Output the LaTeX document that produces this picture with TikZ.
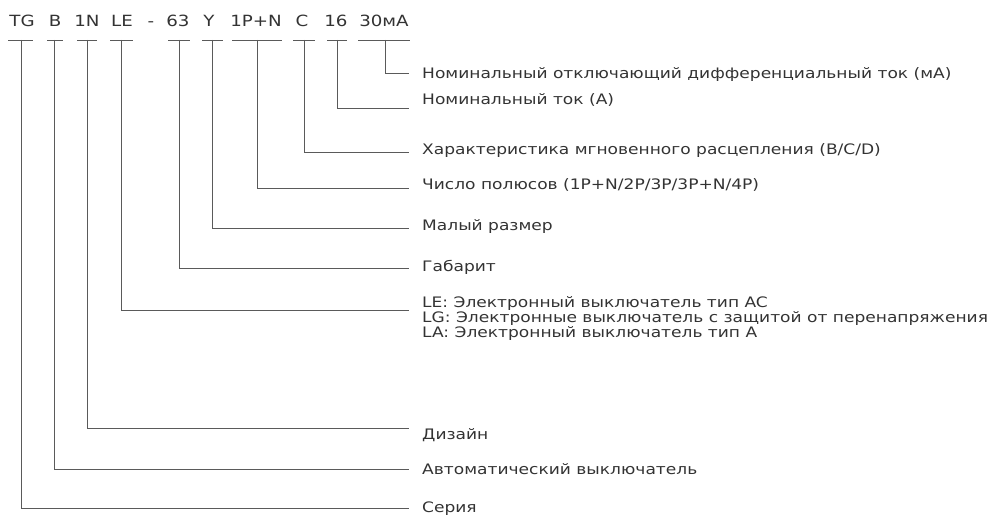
\documentclass[tikz,border=0pt]{standalone}
\usepackage{fontspec}
\setmainfont{DejaVu Sans}[FakeStretch=1.18]
\definecolor{txt}{HTML}{333333}
\definecolor{ln}{HTML}{5A5A5A}
\begin{document}
\begin{tikzpicture}[x=1bp,y=-1bp,
  code/.style={font=\fontsize{15.5}{18}\selectfont, text=txt, anchor=base, inner sep=0pt},
  lab/.style={font=\fontsize{14.5}{13}\selectfont, text=txt, anchor=base west, inner sep=0pt},
  conn/.style={draw=ln, line width=0.9bp}]
\useasboundingbox (0,0) rectangle (992,518);
% codes
\node[code] (c1) at (22,27) {TG};
\node[code] (c2) at (55,27) {B};
\node[code] (c3) at (87,27) {1N};
\node[code] (c4) at (122,27) {LE};
\node[code] (cd) at (151,27) {-};
\node[code] (c5) at (178,27) {63};
\node[code] (c6) at (209,27) {Y};
\node[code] (c7) at (256,27) {1P+N};
\node[code] (c8) at (302,27) {C};
\node[code] (c9) at (336,27) {16};
\node[code] (c10) at (384,27) {30мA};
% labels
\node[lab] (l10) at (422,79) {Номинальный отключающий дифференциальный ток (мA)};
\node[lab] (l9) at (422,105) {Номинальный ток (A)};
\node[lab] (l8) at (422,155) {Характеристика мгновенного расцепления (B/C/D)};
\node[lab] (l7) at (422,190) {Число полюсов (1P+N/2P/3P/3P+N/4P)};
\node[lab] (l6) at (422,231) {Малый размер};
\node[lab] (l5) at (422,272) {Габарит};
\node[lab] (l4) at (422,308) {LE: Электронный выключатель тип AC};
\node[lab] (l4b) at (422,323) {LG: Электронные выключатель с защитой от перенапряжения};
\node[lab] (l4c) at (422,338) {LA: Электронный выключатель тип A};
\node[lab] (l3) at (422,439) {Дизайн};
\node[lab] (l2) at (422,474) {Автоматический выключатель};
\node[lab] (l1) at (422,512) {Серия};
% bars and connectors
\foreach \i/\l/\r/\v/\y in {1/8/33/21/508, 2/47/63/54/469, 3/77/97/87/428, 4/110/133/121/310,
  5/168/190/179/268, 6/202/223/212/228, 7/232/282/257/188, 8/293/315/304/152,
  9/327/347/337/108, 10/358/410/385/73}{
  \coordinate (bl\i) at (\l,40);
  \coordinate (br\i) at (\r,40);
  \coordinate (t\i) at (\v,40);
  \coordinate (e\i) at (409,\y);
  \draw[conn] (bl\i) -- (br\i);
  \draw[conn] (t\i) |- (e\i);
}
\end{tikzpicture}
\end{document}
